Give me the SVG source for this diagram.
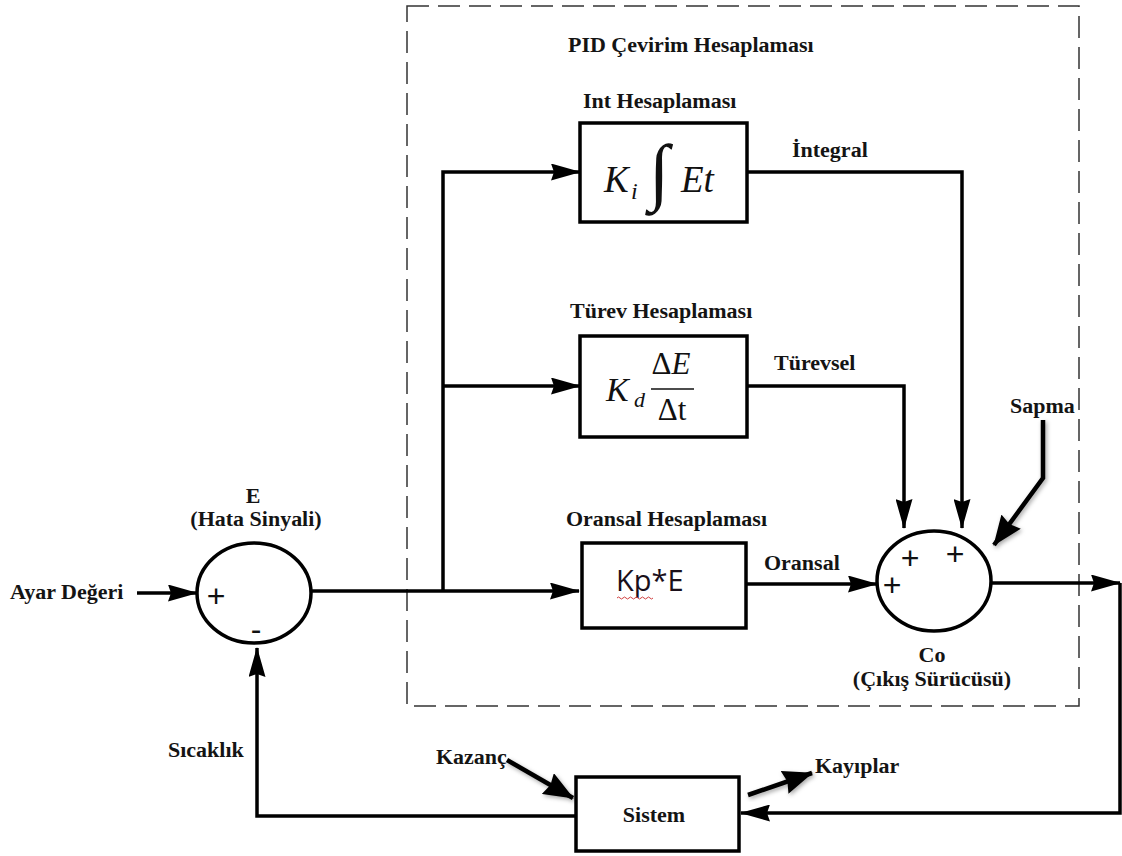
<svg xmlns="http://www.w3.org/2000/svg" width="1122" height="856" viewBox="0 0 1122 856">
<style>
.t{font-family:"Liberation Serif","Times New Roman",serif;font-weight:bold;font-size:20px;fill:#141414}
.mi{font-family:"Liberation Serif","Times New Roman",serif;font-style:italic;fill:#111}
.mu{font-family:"Liberation Serif","Times New Roman",serif;fill:#111}
.sg{font-family:"Liberation Sans",Arial,sans-serif;font-size:32px;fill:#111;text-anchor:middle}
.box{fill:#fff;stroke:#000;stroke-width:3.5}
.sum{fill:#fff;stroke:#000;stroke-width:3.5}
.ln{fill:none;stroke:#000;stroke-width:3.5}
.thick{fill:none;stroke:#000;stroke-width:4.5}
</style>
<defs>
<marker id="ah" viewBox="0 0 30 17" refX="29" refY="8.5" markerWidth="30" markerHeight="17" markerUnits="userSpaceOnUse" orient="auto">
<path d="M0,0 L30,8.5 L0,17 L3,8.5 Z" fill="#000"/>
</marker>
<marker id="ah2" viewBox="0 0 30 24" refX="29" refY="12" markerWidth="30" markerHeight="24" markerUnits="userSpaceOnUse" orient="auto">
<path d="M0,0 L30,12 L0,24 L3,12 Z" fill="#000"/>
</marker>
<filter id="sh" x="-30%" y="-30%" width="160%" height="160%">
<feDropShadow dx="1.5" dy="2" stdDeviation="2" flood-color="#000" flood-opacity="0.35"/>
</filter>
</defs>
<rect width="1122" height="856" fill="#fff"/>

<g id="pid-frame">
<rect x="407" y="6" width="672" height="700" fill="none" stroke="#333" stroke-width="1.5" stroke-dasharray="22 9"/>
<text class="t" transform="translate(568 52) scale(1.1 1)">PID Çevirim Hesaplaması</text>
</g>

<g id="connectors">
<path class="ln" d="M137,593 H197" marker-end="url(#ah)"/>
<path class="ln" d="M311,591 H579" marker-end="url(#ah)"/>
<path class="ln" d="M443,591 V172 H580" marker-end="url(#ah)"/>
<path class="ln" d="M443,386 H580" marker-end="url(#ah)"/>
<path class="ln" d="M748,172 H962 V528" marker-end="url(#ah)"/>
<path class="ln" d="M748,386 H904 V528" marker-end="url(#ah)"/>
<path class="ln" d="M746,584 H877" marker-end="url(#ah)"/>
<path class="ln" d="M991,583 H1120" marker-end="url(#ah)"/>
<path class="ln" d="M1120,583 V813 H741" marker-end="url(#ah)"/>
<path class="ln" d="M576,816 H257 V648" marker-end="url(#ah)"/>
<path class="thick" d="M1043,420 V478 L994,545" marker-end="url(#ah2)" filter="url(#sh)"/>
<path class="thick" d="M507,760 L573,798" marker-end="url(#ah2)" filter="url(#sh)"/>
<path class="thick" d="M748,795 L812,773" marker-end="url(#ah2)" filter="url(#sh)"/>
</g>

<g id="setpoint">
<text class="t" transform="translate(10 599) scale(1.1 1)">Ayar Değeri</text>
</g>

<g id="error-sum">
<ellipse class="sum" cx="254" cy="593" rx="57" ry="50"/>
<text class="sg" x="216" y="607">+</text>
<text class="sg" x="256" y="640">-</text>
<text class="t" text-anchor="middle" transform="translate(253 503) scale(1.1 1)">E</text>
<text class="t" text-anchor="middle" transform="translate(256 526) scale(1.1 1)">(Hata Sinyali)</text>
</g>

<g id="int-block">
<text class="t" transform="translate(583 108) scale(1.1 1)">Int Hesaplaması</text>
<rect class="box" x="580" y="123" width="167" height="99"/>
<text class="mi" x="604" y="192" font-size="37">K</text>
<text class="mi" x="631" y="199" font-size="24">i</text>
<text class="mu" x="649" y="196" font-size="74">∫</text>
<text class="mi" x="681" y="192" font-size="37">Et</text>
<text class="t" transform="translate(792 157) scale(1.1 1)">İntegral</text>
</g>

<g id="turev-block">
<text class="t" transform="translate(570 318) scale(1.1 1)">Türev Hesaplaması</text>
<rect class="box" x="580" y="336" width="167" height="101"/>
<text class="mi" x="606" y="401" font-size="34">K</text>
<text class="mi" x="634" y="407" font-size="22">d</text>
<text class="mu" x="671" y="374" font-size="31" text-anchor="middle">Δ<tspan font-style="italic">E</tspan></text>
<line x1="651" y1="389" x2="694" y2="389" stroke="#111" stroke-width="1.5"/>
<text class="mu" x="672" y="420" font-size="31" text-anchor="middle">Δt</text>
<text class="t" transform="translate(774 370) scale(1.1 1)">Türevsel</text>
</g>

<g id="oransal-block">
<text class="t" transform="translate(566 526) scale(1.1 1)">Oransal Hesaplaması</text>
<rect class="box" x="582" y="543" width="164" height="85"/>
<text x="616" y="591" font-family="Open Sans, Liberation Sans, sans-serif" font-size="29" fill="#1a0f1a">Kp*E</text>
<path d="M617,598 q1.5,-2 3,0 t3,0 t3,0 t3,0 t3,0 t3,0 t3,0 t3,0 t3,0 t3,0 t3,0 t3,0" fill="none" stroke="#d04040" stroke-width="1"/>
<text class="t" transform="translate(764 570) scale(1.1 1)">Oransal</text>
</g>

<g id="output-sum">
<ellipse class="sum" cx="934" cy="581" rx="57" ry="50"/>
<text class="sg" x="910" y="569">+</text>
<text class="sg" x="955" y="565">+</text>
<text class="sg" x="892" y="596">+</text>
<text class="t" text-anchor="middle" transform="translate(932 662) scale(1.1 1)">Co</text>
<text class="t" text-anchor="middle" transform="translate(932 686) scale(1.1 1)">(Çıkış Sürücüsü)</text>
</g>

<g id="sapma">
<text class="t" transform="translate(1010 413) scale(1.1 1)">Sapma</text>
</g>

<g id="sistem">
<rect class="box" x="576" y="777" width="163" height="74"/>
<text class="t" text-anchor="middle" transform="translate(654 822) scale(1.1 1)">Sistem</text>
</g>

<g id="labels">
<text class="t" transform="translate(168 757) scale(1.1 1)">Sıcaklık</text>
<text class="t" transform="translate(436 764) scale(1.1 1)">Kazanç</text>
<text class="t" transform="translate(815 773) scale(1.1 1)">Kayıplar</text>
</g>
</svg>
